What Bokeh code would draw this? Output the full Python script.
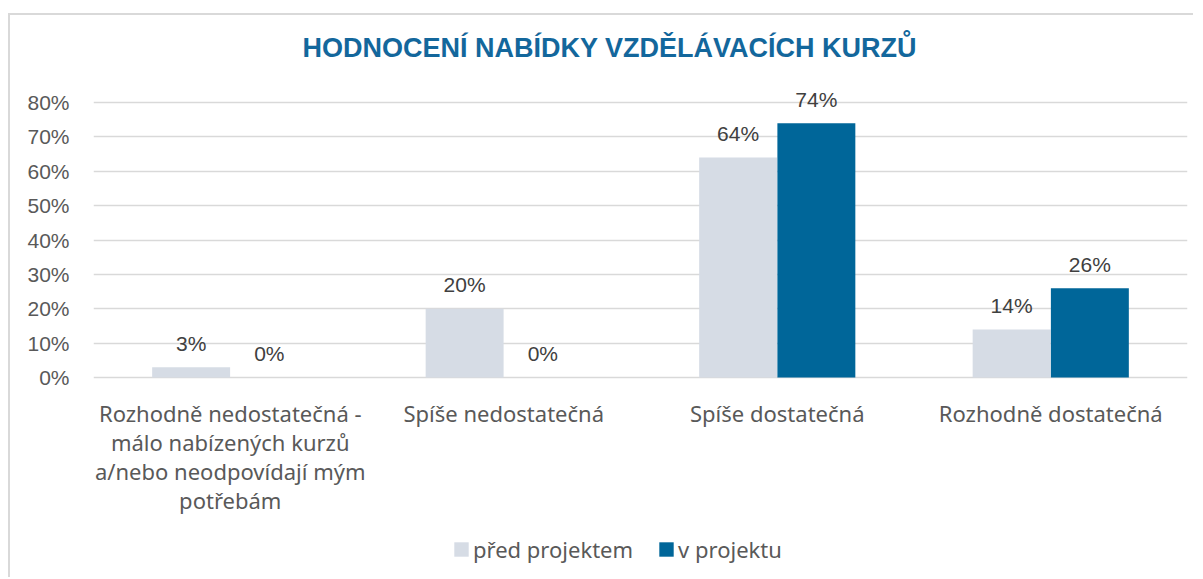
from bokeh.plotting import figure
from bokeh.models import (ColumnDataSource, FactorRange, Range1d, FixedTicker, NumeralTickFormatter,
                          LabelSet, Legend, LegendItem, Title)
from bokeh.core.properties import value
from bokeh.transform import dodge
from bokeh.embed import file_html
from bokeh.resources import INLINE

# ---- data ----
categories = [
    "Rozhodně nedostatečná -\nmálo nabízených kurzů\na/nebo neodpovídají mým\npotřebám",
    "Spíše nedostatečná",
    "Spíše dostatečná",
    "Rozhodně dostatečná",
]
series_names = ["před projektem", "v projektu"]
pred_projektem = [3, 20, 64, 14]
v_projektu = [0, 0, 74, 26]
y_ticks = [0, 10, 20, 30, 40, 50, 60, 70, 80]
title_text = "HODNOCENÍ NABÍDKY VZDĚLÁVACÍCH KURZŮ"

GREY = "#d6dce5"
BLUE = "#006699"
TEXT = "#595959"

source = ColumnDataSource(dict(
    cat=categories,
    pre=[v / 100 for v in pred_projektem],
    post=[v / 100 for v in v_projektu],
    pre_lbl=[f"{v}%" for v in pred_projektem],
    post_lbl=[f"{v}%" for v in v_projektu],
))

# category label lines (wrapped like the axis of the original)
line_cat, line_txt, line_off = [], [], []
for c in categories:
    for i, ln in enumerate(c.split("\n")):
        line_cat.append(c)
        line_txt.append(ln)
        line_off.append(-35 - 29 * i)
cat_src = ColumnDataSource(dict(cat=line_cat, txt=line_txt, yoff=line_off, y=[0] * len(line_cat)))

p = figure(x_range=FactorRange(*categories), y_range=Range1d(-0.5758, 0.87),
           width=1185, height=564, output_backend="svg", toolbar_location=None,
           min_border_left=83, min_border_right=8, min_border_top=63, min_border_bottom=4)
p.styles = {"border-left": "2px solid #d9d9d9", "border-top": "2px solid #d9d9d9",
            "margin-top": "13px", "margin-left": "8px"}
p.outline_line_color = None
p.x_range.range_padding = 0
p.x_range.factor_padding = 0

off = 0.143
r1 = p.vbar(x=dodge("cat", -off, range=p.x_range), top="pre", width=0.285, source=source,
            fill_color=GREY, line_color=None)
r2 = p.vbar(x=dodge("cat", off, range=p.x_range), top="post", width=0.285, source=source,
            fill_color=BLUE, line_color=None)

for fld, lbl, o in (("pre", "pre_lbl", -off), ("post", "post_lbl", off)):
    ls = LabelSet(x=dodge("cat", o, range=p.x_range), y=fld, text=lbl, source=source,
                  text_align="center", text_baseline="middle", y_offset=24,
                  text_font=value("Liberation Sans"), text_font_size="21px", text_color="#404040")
    p.add_layout(ls)

# category labels
p.add_layout(LabelSet(x="cat", y="y", text="txt", y_offset="yoff", source=cat_src,
                      text_align="center", text_baseline="middle",
                      text_font=value("Noto Sans"), text_font_size="22px", text_color=TEXT))

# axes
p.xaxis.visible = False
p.yaxis.ticker = FixedTicker(ticks=[t / 100 for t in y_ticks])
p.yaxis.formatter = NumeralTickFormatter(format="0%")
p.yaxis.axis_line_color = None
p.yaxis.major_tick_line_color = None
p.yaxis.minor_tick_line_color = None
p.yaxis.major_label_standoff = 18
p.yaxis.major_label_text_font = "Liberation Sans"
p.yaxis.major_label_text_font_size = "21px"
p.yaxis.major_label_text_color = TEXT

p.xgrid.grid_line_color = None
p.ygrid.grid_line_color = "#d9d9d9"
p.ygrid.grid_line_width = 1.5

# title
p.title = Title(text=title_text, align="left", offset=209, standoff=31,
                text_font="Liberation Sans", text_font_size="27px", text_font_style="bold",
                text_color="#13679c")

legend = Legend(items=[LegendItem(label=series_names[0], renderers=[r1]),
                       LegendItem(label=series_names[1], renderers=[r2])],
                orientation="horizontal", location=(359, 11),
                glyph_width=18, glyph_height=18, label_standoff=3, spacing=24,
                padding=0, margin=0, border_line_color=None, background_fill_alpha=0,
                label_text_font="Noto Sans", label_text_font_size="22px", label_text_color=TEXT)
p.add_layout(legend, "center")

open("out.html", "w").write(file_html(p, INLINE))
